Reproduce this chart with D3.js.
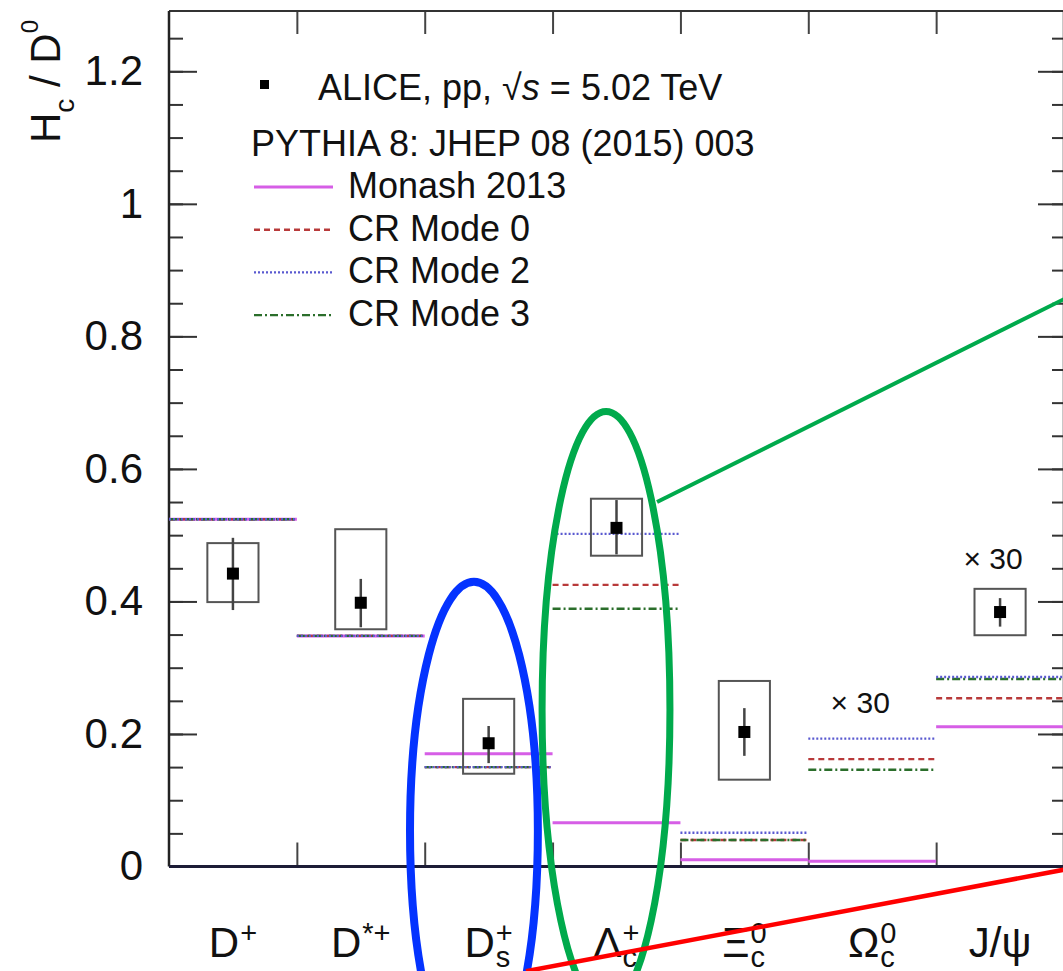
<!DOCTYPE html>
<html><head><meta charset="utf-8">
<script src="https://cdn.jsdelivr.net/npm/d3@7"></script>
<style>
body{margin:0;background:#fff}
svg{display:block}
text{font-family:"Liberation Sans",Arial,Helvetica,sans-serif;fill:#111}
</style>
</head><body>
<svg id="chart" width="1063" height="971"></svg>
<script>
// ---------- data ----------
const categories = ["D+", "D*+", "Ds+", "Λc+", "Ξc0", "Ωc0", "J/ψ"];
const labelBase = ["D", "D", "D", "Λ", "Ξ", "Ω", "J/ψ"];
const labelSup  = ["+", "*+", "+", "+", "0", "0", ""];
const labelSub  = ["", "", "s", "c", "c", "c", ""];

// ALICE measurement (J/ψ shown ×30); null = no point
const aliceValue = [0.442, 0.398, 0.186, 0.511, 0.203, null, 0.384];
const statLow    = [0.387, 0.361, 0.156, 0.471, 0.167, null, 0.362];
const statHigh   = [0.496, 0.434, 0.212, 0.553, 0.239, null, 0.405];
const systLow    = [0.399, 0.358, 0.140, 0.469, 0.131, null, 0.349];
const systHigh   = [0.488, 0.509, 0.253, 0.555, 0.280, null, 0.419];

// PYTHIA 8 predictions (Ωc0 and J/ψ shown ×30)
const monash = [0.524, 0.348, 0.170, 0.066, 0.010, 0.008, 0.211];
const crMode0 = [0.524, 0.348, 0.150, 0.425, 0.040, 0.162, 0.254];
const crMode2 = [0.524, 0.348, 0.150, 0.502, 0.051, 0.193, 0.286];
const crMode3 = [0.524, 0.348, 0.150, 0.389, 0.040, 0.146, 0.283];

const yTickValues = [0, 0.2, 0.4, 0.6, 0.8, 1.0, 1.2];
const yTickLabels = ["0", "0.2", "0.4", "0.6", "0.8", "1", "1.2"];
const yMinorValues = d3.range(0, 1.29, 0.05);

const scaleNotes = [{cat: "Ωc0", value: 0.232, text: "× 30"}, {cat: "J/ψ", value: 0.449, text: "× 30"}];

const legendEntries = [
  {name: "Monash 2013", series: "monash"},
  {name: "CR Mode 0", series: "cr0"},
  {name: "CR Mode 2", series: "cr2"},
  {name: "CR Mode 3", series: "cr3"}
];

// annotation overlays in data units (x in category units, y in ratio units)
const blueEllipse  = {cx: 2.385, cy: 0.0536, rx: 0.50, ry: 0.376};
const greenEllipse = {cx: 3.418, cy: 0.2366, rx: 0.50, ry: 0.45};
const greenLine = [[3.817, 0.550], [7.05, 0.861]];
const redLine   = [[2.792, -0.158], [7.05, -0.003]];

// ---------- styles ----------
const styles = {
  monash: {color: "#d65ee6", width: 3, dash: null},
  cr0:    {color: "#b83a3a", width: 2.4, dash: "6,4"},
  cr2:    {color: "#5a5ad0", width: 2.4, dash: "2,2"},
  cr3:    {color: "#2b6e2b", width: 2.4, dash: "8,3,2,3"}
};
const seriesData = {monash: monash, cr0: crMode0, cr2: crMode2, cr3: crMode3};

// ---------- scales ----------
const L = 169, R = 1064, T = 11, B = 866.5;
const svg = d3.select("#chart");
const x = d3.scaleBand().domain(categories).range([L, R]).padding(0);
const xi = d3.scaleLinear().domain([0, 7]).range([L, R]);
const y = d3.scaleLinear().domain([0, 1.291]).range([B, T]);
const bw = x.bandwidth();

// ---------- axes ----------
const axL = svg.append("g").attr("transform", `translate(${L},0)`)
  .call(d3.axisLeft(y).tickValues(yTickValues).tickSize(-28).tickPadding(26)
    .tickFormat((d, i) => yTickLabels[i]));
axL.select(".domain").remove();
axL.selectAll("line").attr("stroke", "#333").attr("stroke-width", 2);
axL.selectAll("text").attr("font-size", 42).attr("fill", "#111")
  .attr("font-family", '"Liberation Sans",Arial,sans-serif');

const axLm = svg.append("g").attr("transform", `translate(${L},0)`)
  .call(d3.axisLeft(y).tickValues(yMinorValues).tickSize(-14).tickFormat(""));
axLm.select(".domain").remove();
axLm.selectAll("line").attr("stroke", "#333").attr("stroke-width", 2);

const axR = svg.append("g").attr("transform", `translate(${R},0)`)
  .call(d3.axisRight(y).tickValues(yTickValues).tickSize(-26).tickFormat(""));
axR.select(".domain").remove();
axR.selectAll("line").attr("stroke", "#333").attr("stroke-width", 2);
const axRm = svg.append("g").attr("transform", `translate(${R},0)`)
  .call(d3.axisRight(y).tickValues(yMinorValues).tickSize(-12).tickFormat(""));
axRm.select(".domain").remove();
axRm.selectAll("line").attr("stroke", "#333").attr("stroke-width", 2);

const axB = svg.append("g").attr("transform", `translate(0,${B})`)
  .call(d3.axisBottom(xi).tickValues([1,2,3,4,5,6]).tickSize(-24).tickFormat(""));
axB.select(".domain").remove();
axB.selectAll("line").attr("stroke", "#444").attr("stroke-width", 2);
const axT = svg.append("g").attr("transform", `translate(0,${T})`)
  .call(d3.axisTop(xi).tickValues([1,2,3,4,5,6]).tickSize(-23).tickFormat(""));
axT.select(".domain").remove();
axT.selectAll("line").attr("stroke", "#444").attr("stroke-width", 2);

// frame
svg.append("line").attr("x1", L).attr("x2", R).attr("y1", T).attr("y2", T)
  .attr("stroke", "#333").attr("stroke-width", 2);
svg.append("line").attr("x1", L).attr("x2", L).attr("y1", T).attr("y2", B)
  .attr("stroke", "#222").attr("stroke-width", 2.5);
svg.append("line").attr("x1", R).attr("x2", R).attr("y1", T).attr("y2", B)
  .attr("stroke", "#222").attr("stroke-width", 2.5);

// ---------- model lines ----------
["monash", "cr0", "cr3", "cr2"].forEach(key => {
  const st = styles[key];
  svg.append("g").selectAll("line").data(categories).join("line")
    .attr("x1", d => x(d)).attr("x2", d => x(d) + bw)
    .attr("y1", (d, i) => y(seriesData[key][i])).attr("y2", (d, i) => y(seriesData[key][i]))
    .attr("stroke", st.color).attr("stroke-width", st.width)
    .attr("stroke-dasharray", st.dash);
});

// bottom axis line drawn over model lines
svg.append("line").attr("x1", L).attr("x2", R).attr("y1", B).attr("y2", B)
  .attr("stroke", "#1c1c36").attr("stroke-width", 3);

// ---------- ALICE data ----------
const pts = categories.map((c, i) => ({c, v: aliceValue[i], sl: statLow[i], sh: statHigh[i], yl: systLow[i], yh: systHigh[i]}))
  .filter(d => d.v !== null);
const cx = d => x(d.c) + bw / 2;
svg.append("g").selectAll("rect").data(pts).join("rect")
  .attr("x", d => cx(d) - bw * 0.2).attr("width", bw * 0.4)
  .attr("y", d => y(d.yh)).attr("height", d => y(d.yl) - y(d.yh))
  .attr("fill", "none").attr("stroke", "#555").attr("stroke-width", 2);
svg.append("g").selectAll("line").data(pts).join("line")
  .attr("x1", cx).attr("x2", cx).attr("y1", d => y(d.sh)).attr("y2", d => y(d.sl))
  .attr("stroke", "#444").attr("stroke-width", 2.5);
svg.append("g").selectAll("rect").data(pts).join("rect")
  .attr("x", d => cx(d) - 6).attr("y", d => y(d.v) - 6)
  .attr("width", 12).attr("height", 12).attr("fill", "#000");

// ×30 notes
svg.append("g").selectAll("text").data(scaleNotes).join("text")
  .attr("x", d => x(d.cat) + bw / 2 - (d.cat === "Ωc0" ? 12 : 7)).attr("y", d => y(d.value))
  .attr("text-anchor", "middle").attr("font-size", 30).text(d => d.text);

// ---------- category labels ----------
categories.forEach((c, i) => {
  const g = svg.append("g");
  const base = g.append("text").attr("y", 957).attr("font-size", 42).text(labelBase[i]);
  const wb = base.node().getComputedTextLength();
  let ws = 0, sup = null, sub = null;
  if (labelSup[i]) { sup = g.append("text").attr("y", 943).attr("font-size", 29).text(labelSup[i]); ws = Math.max(ws, sup.node().getComputedTextLength()); }
  if (labelSub[i]) { sub = g.append("text").attr("y", 967).attr("font-size", 29).text(labelSub[i]); ws = Math.max(ws, sub.node().getComputedTextLength()); }
  const x0 = x(c) + bw / 2 - (wb + ws + (ws ? 1 : 0)) / 2;
  base.attr("x", x0);
  if (sup) sup.attr("x", x0 + wb + 1);
  if (sub) sub.attr("x", x0 + wb + 1);
});

// ---------- y title ----------
const yt = svg.append("text").attr("transform", "translate(60,143) rotate(-90)")
  .attr("font-size", 42);
yt.append("tspan").text("H");
yt.append("tspan").attr("font-size", 28).attr("dy", 14).text("c");
yt.append("tspan").attr("dy", -14).text(" / D");
yt.append("tspan").attr("font-size", 24).attr("dy", -22).text("0");

// ---------- legend ----------
const lg = svg.append("g");
lg.append("rect").attr("x", 260).attr("y", 80).attr("width", 9).attr("height", 9).attr("fill", "#000");
const t1 = lg.append("text").attr("x", 318).attr("y", 100).attr("font-size", 36);
t1.append("tspan").text("ALICE, pp, √");
t1.append("tspan").attr("font-style", "italic").text("s");
t1.append("tspan").text(" = 5.02 TeV");
lg.append("text").attr("x", 251).attr("y", 156).attr("font-size", 36).text("PYTHIA 8: JHEP 08 (2015) 003");
legendEntries.forEach((e, k) => {
  const yy = 187 + k * 42.7;
  const st = styles[e.series];
  lg.append("line").attr("x1", 254).attr("x2", 333).attr("y1", yy).attr("y2", yy)
    .attr("stroke", st.color).attr("stroke-width", st.width).attr("stroke-dasharray", st.dash);
  lg.append("text").attr("x", 348).attr("y", yy + 11).attr("font-size", 36).text(e.name);
});

// ---------- annotation overlays ----------
const ell = (e, color, w) => svg.append("ellipse")
  .attr("cx", xi(e.cx)).attr("cy", y(e.cy))
  .attr("rx", xi(e.rx) - xi(0)).attr("ry", y(0) - y(e.ry))
  .attr("fill", "none").attr("stroke", color).attr("stroke-width", w);
ell(blueEllipse, "#0433ff", 8);
ell(greenEllipse, "#00aa4c", 7);
const ln = d3.line().x(d => xi(d[0])).y(d => y(d[1]));
svg.append("path").attr("d", ln(greenLine)).attr("stroke", "#00aa4c").attr("stroke-width", 4).attr("fill", "none");
svg.append("path").attr("d", ln(redLine)).attr("stroke", "#ff0000").attr("stroke-width", 4.5).attr("fill", "none");
</script>
</body></html>
